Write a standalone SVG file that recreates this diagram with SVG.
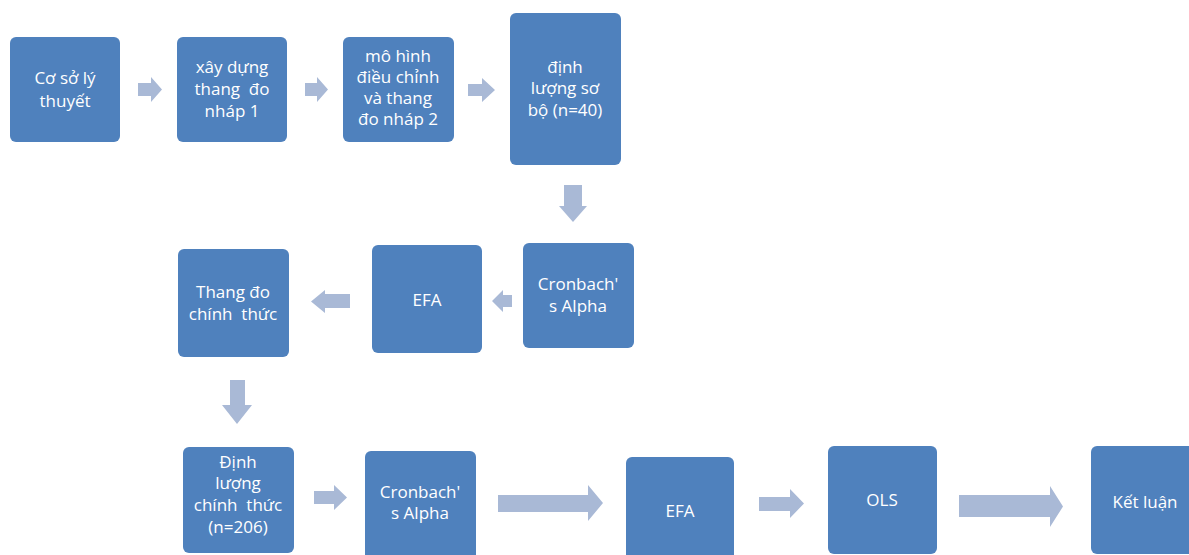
<svg xmlns="http://www.w3.org/2000/svg" width="1189" height="555" viewBox="0 0 1189 555">
<style>
.box{fill:#4F81BD;}
.arr{fill:#A9B9D6;}
text{font-family:"Open Sans","Noto Sans","Liberation Sans",sans-serif;font-size:17px;fill:#FFFFFF;text-anchor:middle;}
</style>
<rect width="1189" height="555" fill="#FFFFFF"/>
<g id="connectors">
<polygon class="arr" points="138,83 151,83 151,77 162,89.5 151,102 151,96 138,96"/>
<polygon class="arr" points="305,83 317,83 317,77 328,89.5 317,102 317,96 305,96"/>
<polygon class="arr" points="468,84 482,84 482,78 495,90 482,102 482,96 468,96"/>
<polygon class="arr" points="564,185 582,185 582,206 587,206 573,222 559,206 564,206"/>
<polygon class="arr" points="512,295 503,295 503,290 492,301 503,312 503,307 512,307"/>
<polygon class="arr" points="350,294 325,294 325,290 311,301.5 325,313 325,308 350,308"/>
<polygon class="arr" points="230,380 245,380 245,405 252,405 237,424 222,405 230,405"/>
<polygon class="arr" points="314,491 334,491 334,485 347,497.5 334,510 334,504 314,504"/>
<polygon class="arr" points="498,495 588,495 588,485 603,503 588,521 588,512 498,512"/>
<polygon class="arr" points="759,497 790,497 790,489 804,503.5 790,518 790,511 759,511"/>
<polygon class="arr" points="959,495 1050,495 1050,486 1063,506.5 1050,527 1050,517 959,517"/>
</g>
<g id="n1"><rect class="box" x="10" y="37" width="110" height="105" rx="6"/>
<text x="65" y="84">Cơ sở lý</text><text x="65" y="107">thuyết</text></g>
<g id="n2"><rect class="box" x="177" y="37" width="110" height="105" rx="6"/>
<text x="232" y="73">xây dựng</text><text x="232" y="95" xml:space="preserve">thang  đo</text><text x="232" y="117">nháp 1</text></g>
<g id="n3"><rect class="box" x="343" y="37" width="111" height="105" rx="6"/>
<text x="398" y="62">mô hình</text><text x="398" y="83">điều chỉnh</text><text x="398" y="104">và thang</text><text x="398" y="125">đo nháp 2</text></g>
<g id="n4"><rect class="box" x="510" y="13" width="111" height="152" rx="6"/>
<text x="565" y="73">định</text><text x="565" y="94">lượng sơ</text><text x="565" y="116">bộ (n=40)</text></g>
<g id="n5"><rect class="box" x="523" y="243" width="111" height="105" rx="6"/>
<text x="578" y="290">Cronbach'</text><text x="578" y="312">s Alpha</text></g>
<g id="n6"><rect class="box" x="372" y="245" width="110" height="108" rx="6"/>
<text x="427" y="306">EFA</text></g>
<g id="n7"><rect class="box" x="178" y="249" width="111" height="108" rx="6"/>
<text x="233" y="298">Thang đo</text><text x="233" y="320" xml:space="preserve">chính  thức</text></g>
<g id="n8"><rect class="box" x="183" y="447" width="111" height="106" rx="6"/>
<text x="238" y="468">Định</text><text x="238" y="489">lượng</text><text x="238" y="511" xml:space="preserve">chính  thức</text><text x="238" y="533">(n=206)</text></g>
<g id="n9"><rect class="box" x="365" y="451" width="111" height="110" rx="6"/>
<text x="420" y="498">Cronbach'</text><text x="420" y="519">s Alpha</text></g>
<g id="n10"><rect class="box" x="626" y="457" width="108" height="110" rx="6"/>
<text x="680" y="517">EFA</text></g>
<g id="n11"><rect class="box" x="828" y="446" width="109" height="108" rx="6"/>
<text x="882" y="506">OLS</text></g>
<g id="n12"><rect class="box" x="1091" y="446" width="110" height="108" rx="6"/>
<text x="1145" y="508">Kết luận</text></g>
</svg>
